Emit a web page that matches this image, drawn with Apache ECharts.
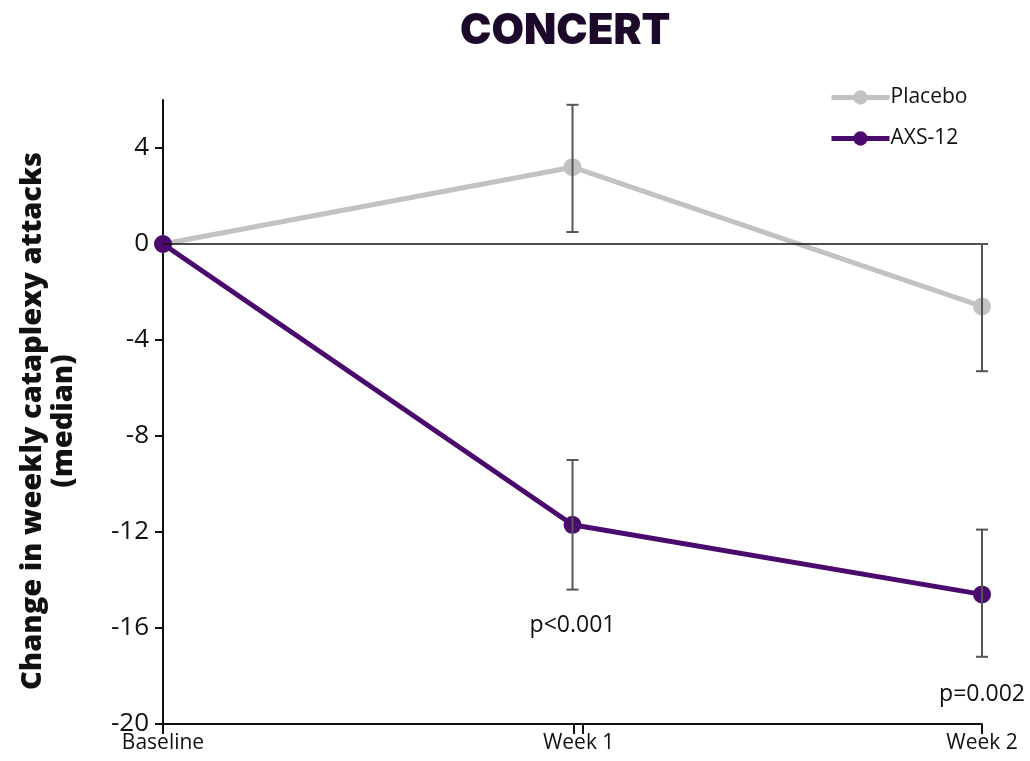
<!DOCTYPE html>
<html>
<head>
<meta charset="utf-8">
<script src="https://cdn.jsdelivr.net/npm/echarts@6/dist/echarts.min.js"></script>
<style>
  html, body { margin: 0; padding: 0; background: #fff; }
  #chart { width: 1030px; height: 761px; }
</style>
</head>
<body>
<div id="chart"></div>
<script>
// x positions (0 = Baseline, 1 = Week 1, 2 = Week 2)
var categories = ['Baseline', 'Week 1', 'Week 2'];
var xIndex = [0, 1, 2];

var placebo = [0, 3.2, -2.6];
var placeboLow = [null, 0.5, -5.3];
var placeboHigh = [null, 5.8, 0.0];

var axs = [0, -11.7, -14.6];
var axsLow = [null, -14.4, -17.2];
var axsHigh = [null, -9.0, -11.9];

var pLabels = ['', 'p<0.001', 'p=0.002'];

var yTicks = [-20, -16, -12, -8, -4, 0, 4];
var xTicks = [0, 1.003, 1.024, 2];   // double tick at Week 1 (axis break)
var xLabelPos = [0, 1.015, 2];

var PURPLE = '#4b0b6e';
var GREY = '#c2c2c2';
var FONT = '"Open Sans", Lato, sans-serif';

var chart = echarts.init(document.getElementById('chart'));

function pairs(vals) {
    return xIndex.map(function (x, i) { return [x, vals[i]]; });
}

function errData(low, high) {
    var out = [];
    xIndex.forEach(function (x, i) {
        if (low[i] != null) out.push([x, low[i], high[i]]);
    });
    return out;
}

function errorBar(params, api) {
    var lo = api.coord([api.value(0), api.value(1)]);
    var hi = api.coord([api.value(0), api.value(2)]);
    var w = 6;
    var style = { stroke: '#555', lineWidth: 2 };
    return {
        type: 'group',
        children: [
            { type: 'line', shape: { x1: lo[0], y1: lo[1], x2: hi[0], y2: hi[1] }, style: style },
            { type: 'line', shape: { x1: lo[0] - w, y1: lo[1], x2: lo[0] + w, y2: lo[1] }, style: style },
            { type: 'line', shape: { x1: hi[0] - w, y1: hi[1], x2: hi[0] + w, y2: hi[1] }, style: style }
        ]
    };
}

chart.setOption({
    backgroundColor: '#fff',
    animation: false,
    title: {
        text: 'CONCERT',
        left: 455,
        top: 5,
        textStyle: {
            fontFamily: 'Inter, ' + FONT,
            fontWeight: 900,
            fontSize: 42,
            color: '#1d0a2a'
        }
    },
    legend: {
        orient: 'vertical',
        left: 824,
        top: 82,
        itemWidth: 58,
        itemHeight: 18,
        itemGap: 20,
        data: ['Placebo', 'AXS-12'],
        lineStyle: { width: 5 },
        textStyle: { fontFamily: FONT, fontSize: 21, color: '#111', padding: [0, 0, 0, -4] }
    },
    grid: { left: 163, right: 48, top: 100, bottom: 37, outerBoundsMode: 'none' },
    xAxis: {
        type: 'value',
        min: 0,
        max: 2,
        splitLine: { show: false },
        axisLine: { onZero: false, lineStyle: { color: '#111', width: 2 } },
        axisTick: {
            customValues: xTicks,
            length: 10,
            lineStyle: { color: '#111', width: 2 }
        },
        axisLabel: {
            customValues: xLabelPos,
            margin: 9,
            fontFamily: FONT,
            fontSize: 21,
            color: '#111',
            formatter: function (v) { return categories[Math.round(v)]; }
        }
    },
    yAxis: {
        type: 'value',
        min: -20,
        max: 6,
        name: 'Change in weekly cataplexy attacks\n(median)',
        nameLocation: 'middle',
        nameGap: 84,
        nameTextStyle: {
            fontFamily: FONT,
            fontWeight: 800,
            fontSize: 29,
            lineHeight: 31,
            color: '#111',
            padding: [0, 18, 0, 0]
        },
        splitLine: { show: false },
        axisLine: { lineStyle: { color: '#111', width: 2 } },
        axisTick: {
            customValues: yTicks,
            length: 8,
            lineStyle: { color: '#111', width: 2 }
        },
        axisLabel: {
            customValues: yTicks,
            margin: 14,
            fontFamily: FONT,
            fontSize: 26,
            color: '#111'
        }
    },
    series: [
        {
            name: 'Placebo',
            type: 'line',
            data: pairs(placebo),
            symbol: 'circle',
            symbolSize: 18,
            z: 3,
            color: GREY,
            lineStyle: { width: 5, color: GREY },
            itemStyle: { color: GREY },
            markLine: {
                silent: true,
                symbol: 'none',
                label: { show: false },
                lineStyle: { color: '#111', width: 1.5, type: 'solid' },
                data: [{ yAxis: 0 }]
            }
        },
        {
            name: 'AXS-12',
            type: 'line',
            data: pairs(axs),
            symbol: 'circle',
            symbolSize: 18,
            z: 4,
            color: PURPLE,
            lineStyle: { width: 5, color: PURPLE },
            itemStyle: { color: PURPLE },
            label: {
                show: true,
                position: 'bottom',
                distance: 80,
                fontFamily: FONT,
                fontSize: 23,
                color: '#111',
                formatter: function (p) { return pLabels[p.dataIndex]; }
            }
        },
        {
            name: 'placeboErr',
            type: 'custom',
            data: errData(placeboLow, placeboHigh),
            renderItem: errorBar,
            z: 5,
            encode: { x: 0, y: [1, 2] }
        },
        {
            name: 'axsErr',
            type: 'custom',
            data: errData(axsLow, axsHigh),
            renderItem: errorBar,
            z: 5,
            encode: { x: 0, y: [1, 2] }
        }
    ]
});

window.addEventListener('resize', chart.resize);
</script>
</body>
</html>
